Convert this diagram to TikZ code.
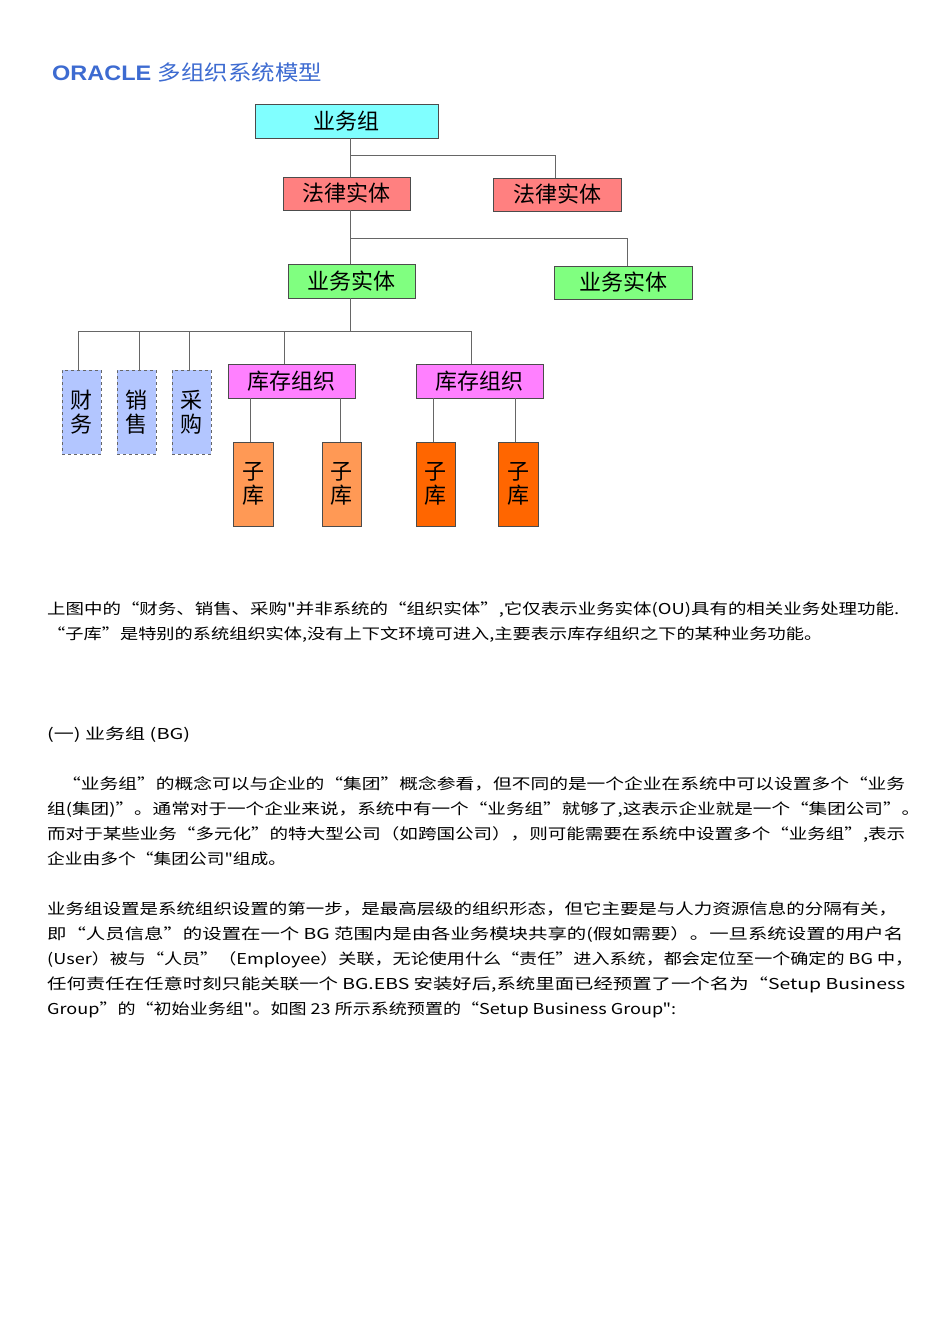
\documentclass[tikz,border=0pt]{standalone}
\usepackage{fontspec}
\usepackage{graphicx}
\setmainfont{Liberation Sans}
\newfontfamily\cjk{Noto Sans CJK SC}
\definecolor{bgcyan}{HTML}{80FFFF}
\definecolor{lered}{HTML}{FF8080}
\definecolor{ougreen}{HTML}{80FF80}
\definecolor{fnblue}{HTML}{B3C6FF}
\definecolor{invpink}{HTML}{FF80FF}
\definecolor{suborA}{HTML}{FF9955}
\definecolor{suborB}{HTML}{FF6600}
\definecolor{ttlblue}{HTML}{3D6BD1}
\tikzset{
  box/.style={draw=black!70, line width=0.8pt, inner sep=0pt, font=\cjk\fontsize{22}{22}\selectfont},
  vbox/.style={box, align=center, font=\cjk\fontsize{22}{24}\selectfont},
  fnbox/.style={vbox, dashed, draw=black!60, fill=fnblue},
  link/.style={draw=black!60, line width=0.9pt},
  para/.style={anchor=base west, inner sep=0pt, font=\cjk\fontsize{15}{15}\selectfont}
}
\newcommand{\wline}[2]{\resizebox{#1pt}{\height}{#2}}
\begin{document}
\begin{tikzpicture}[x=1pt,y=-1pt]
\fill[white] (0,0) rectangle (950,1344);
\useasboundingbox (0,0) rectangle (950,1344);
\node[anchor=base west, inner sep=0pt, text=ttlblue] (title) at (52,80) {\wline{270}{\fontsize{21}{21}\selectfont\bfseries ORACLE \cjk\mdseries 多组织系统模型}};
% boxes
\node[box, fill=bgcyan, minimum width=183pt, minimum height=34pt] (bg) at (346.5,121) {业务组};
\node[box, fill=lered, minimum width=127pt, minimum height=33pt] (le1) at (346.5,193.5) {法律实体};
\node[box, fill=lered, minimum width=128pt, minimum height=33pt] (le2) at (557,194.5) {法律实体};
\node[box, fill=ougreen, minimum width=127pt, minimum height=34pt] (ou1) at (351.5,281) {业务实体};
\node[box, fill=ougreen, minimum width=138pt, minimum height=33pt] (ou2) at (623,282.5) {业务实体};
\node[fnbox, minimum width=39pt, minimum height=84pt] (f1) at (81.5,412) {财\\务};
\node[fnbox, minimum width=39pt, minimum height=84pt] (f2) at (136.5,412) {销\\售};
\node[fnbox, minimum width=39pt, minimum height=84pt] (f3) at (191.5,412) {采\\购};
\node[box, fill=invpink, minimum width=127pt, minimum height=34pt] (inv1) at (291.5,381) {库存组织};
\node[box, fill=invpink, minimum width=127pt, minimum height=34pt] (inv2) at (479.5,381) {库存组织};
\node[vbox, fill=suborA, minimum width=40pt, minimum height=84pt] (s1) at (253,484) {子\\库};
\node[vbox, fill=suborA, minimum width=39pt, minimum height=84pt] (s2) at (341.5,484) {子\\库};
\node[vbox, fill=suborB, minimum width=39pt, minimum height=84pt] (s3) at (435.5,484) {子\\库};
\node[vbox, fill=suborB, minimum width=40pt, minimum height=84pt] (s4) at (518,484) {子\\库};
% connectors
\draw[link] (bg.south -| 350,0) |- (555,155) -- (le2.north -| 555,0);
\draw[link] (350,155) -- (le1.north -| 350,0);
\draw[link] (le1.south -| 350,0) |- (627,238) -- (ou2.north -| 627,0);
\draw[link] (350,238) -- (ou1.north -| 350,0);
\draw[link] (ou1.south -| 350,0) -- (350,331);
\draw[link] (f1.north -| 78,0) |- (471,331) -- (inv2.north -| 471,0);
\draw[link] (139,331) -- (f2.north -| 139,0);
\draw[link] (189,331) -- (f3.north -| 189,0);
\draw[link] (284,331) -- (inv1.north -| 284,0);
\draw[link] (inv1.south -| 250,0) -- (s1.north -| 250,0);
\draw[link] (inv1.south -| 340,0) -- (s2.north -| 340,0);
\draw[link] (inv2.south -| 433,0) -- (s3.north -| 433,0);
\draw[link] (inv2.south -| 515,0) -- (s4.north -| 515,0);
% text
\node[para] (t1) at (47,614) {\wline{852}{上图中的“财务、销售、采购"并非系统的“组织实体”,它仅表示业务实体(OU)具有的相关业务处理功能.}};
\node[para] (t2) at (47,639) {\wline{775}{“子库”是特别的系统组织实体,没有上下文环境可进入,主要表示库存组织之下的某种业务功能。}};
\node[para] (t3) at (47,739) {\wline{143}{(一) 业务组 (BG)}};
\node[para] (t4) at (62,789) {\wline{843}{“业务组”的概念可以与企业的“集团”概念参看，但不同的是一个企业在系统中可以设置多个“业务}};
\node[para] (t5) at (47,814) {\wline{873}{组(集团)”。通常对于一个企业来说，系统中有一个“业务组”就够了,这表示企业就是一个“集团公司”。}};
\node[para] (t6) at (47,839) {\wline{858}{而对于某些业务“多元化”的特大型公司（如跨国公司），则可能需要在系统中设置多个“业务组”,表示}};
\node[para] (t7) at (47,864) {\wline{239}{企业由多个“集团公司"组成。}};
\node[para] (t8) at (47,914) {\wline{850}{业务组设置是系统组织设置的第一步，是最高层级的组织形态，但它主要是与人力资源信息的分隔有关，}};
\node[para] (t9) at (47,939) {\wline{856}{即“人员信息”的设置在一个 BG 范围内是由各业务模块共享的(假如需要）。一旦系统设置的用户名}};
\node[para] (t10) at (47,964) {\wline{866}{(User）被与“人员”（Employee）关联，无论使用什么“责任”进入系统，都会定位至一个确定的 BG 中，}};
\node[para] (t11) at (47,989) {\wline{858}{任何责任在任意时刻只能关联一个 BG.EBS 安装好后,系统里面已经预置了一个名为“Setup Business}};
\node[para] (t12) at (47,1014) {\wline{629}{Group”的“初始业务组"。如图 23 所示系统预置的“Setup Business Group":}};
\end{tikzpicture}
\end{document}
